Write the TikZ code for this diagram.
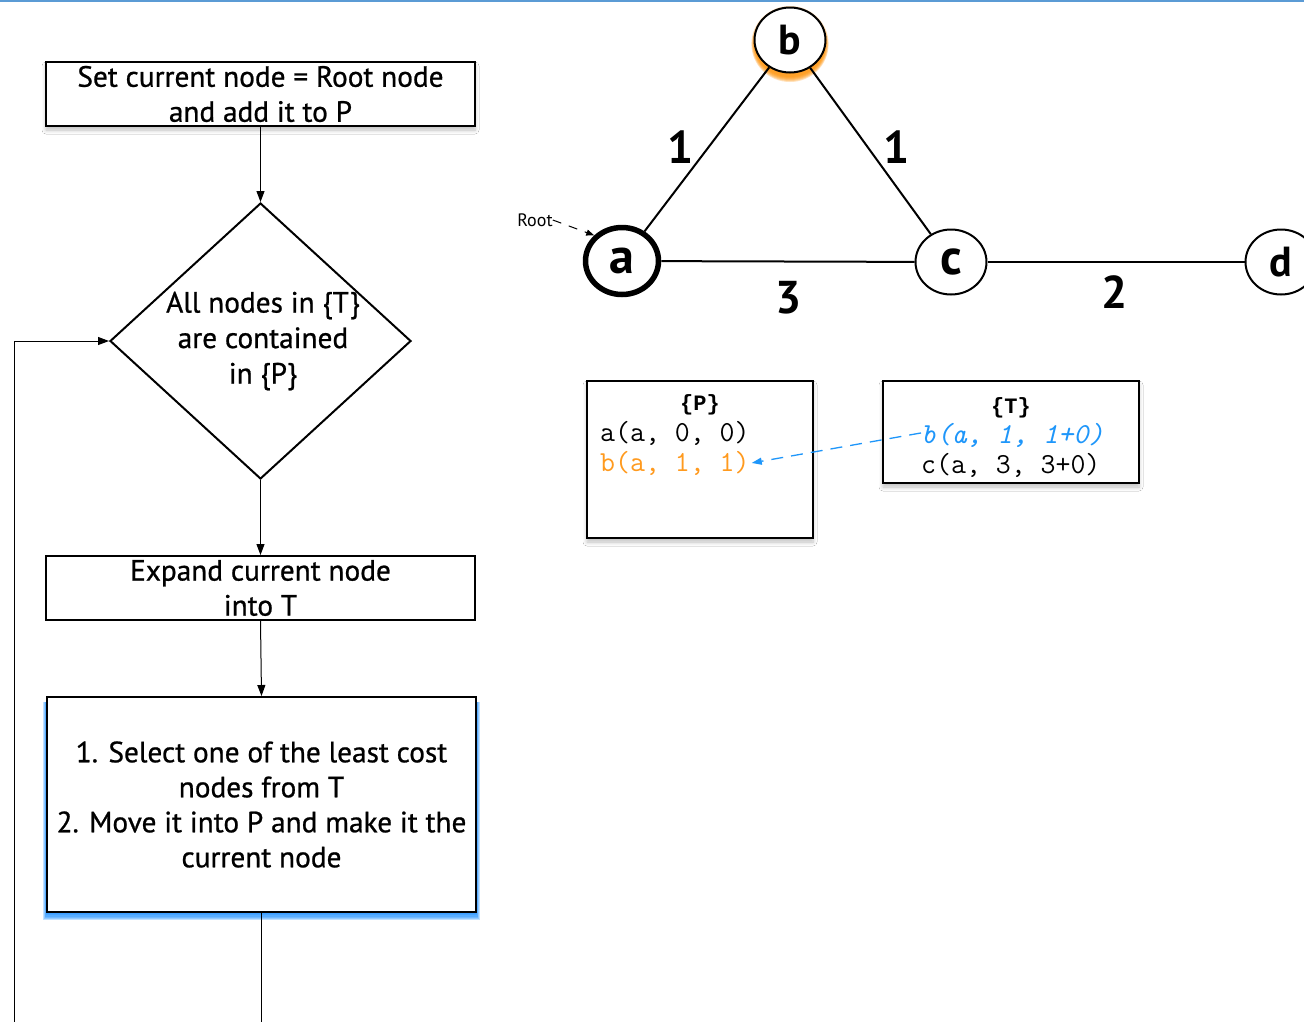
\documentclass[tikz,border=0pt]{standalone}
\usepackage{fontspec}
\setmainfont{PT Sans}
\newfontfamily\flowfont{PT Sans}[FakeBold=0.8]
\newfontfamily\itemmono{Latin Modern Mono}
\newfontfamily\titlemono{Liberation Mono}
\usetikzlibrary{arrows.meta,shapes.geometric,shadows.blur}

\definecolor{topblue}{HTML}{5B9BD5}
\definecolor{selorange}{HTML}{FF9A1E}
\definecolor{tblue}{HTML}{1E96FA}
\definecolor{glowblue}{HTML}{1E90FF}
\definecolor{gloworange}{HTML}{FF9000}

\tikzset{
  softshadow/.style={blur shadow={shadow xshift=0pt, shadow yshift=-4pt,
      shadow blur radius=4pt, shadow blur steps=6, shadow opacity=25}},
  flowbox/.style={draw, line width=2pt, fill=white, minimum width=429pt,
      align=center, font=\flowfont\fontsize{29.3}{35}\selectfont, inner sep=0pt},
  flowtext/.style={align=center, font=\flowfont\fontsize{29.3}{35.5}\selectfont, inner sep=0pt},
  flowarrow/.style={line width=1pt, -{Triangle[length=11pt,width=8pt]}},
  gnode/.style={draw, ellipse, line width=2pt, fill=white, minimum width=71pt,
      minimum height=65pt, inner sep=0pt, font=\fontsize{42}{42}\selectfont\bfseries},
  gedge/.style={line width=2pt},
  weight/.style={font=\fontsize{46}{46}\selectfont\bfseries, inner sep=0pt},
  setbox/.style={draw, line width=2pt, fill=white, softshadow},
  settitle/.style={font=\titlemono\fontsize{22}{22}\selectfont\bfseries, inner sep=0pt},
  setitem/.style={font=\itemmono\fontsize{29}{29}\selectfont, inner sep=0pt},
}

\begin{document}
\begin{tikzpicture}[x=1pt, y=-1pt]
  \useasboundingbox (0,0) rectangle (1304,1021);
  \clip (0,0) rectangle (1304,1021);
  \fill[white] (0,0) rectangle (1304,1021);
  \draw[topblue, line width=2.5pt] (0,1) -- (1304,1);

  % ---------- flowchart ----------
  \node[flowbox, minimum height=64pt, softshadow] (init) at (260.5,94)
    {Set current node = Root node\\and add it to P};

  \node[diamond, draw, line width=2pt, minimum width=301pt, minimum height=276pt,
        inner sep=0pt] (check) at (260.5,341) {};
  \node[flowtext] (checktext) at (263,341) {All nodes in \{T\}\\are contained\\in \{P\}};

  \node[flowbox, minimum height=64pt] (expand) at (260.5,588)
    {Expand current node\\into T};

  % blue glow under the selection step
  \coordinate (selsw) at (47,912);
  \coordinate (selne) at (476,697);
  \foreach \r in {1,...,6}
    \fill[glowblue, opacity=0.28]
      ([xshift=-0.6*\r pt, yshift=-1pt-1.2*\r pt]selsw) rectangle ([xshift=0.6*\r pt, yshift=-5pt]selne);
  \node[flowbox, minimum height=215pt] (select) at (261.5,804.5)
    {1. Select one of the least cost\\nodes from T\\2. Move it into P and make it the\\current node};

  \coordinate (loopbottom) at (14,1030);
  \coordinate (selbottom) at (261.5,1030);

  \draw[flowarrow] (init.south) -- (check.north);
  \draw[flowarrow] (check.south) -- (expand.north);
  \draw[flowarrow] (expand.south) -- (select.north);
  \draw[line width=1pt] (select.south) -- (selbottom);
  \draw[flowarrow] (loopbottom) |- (check.west);

  % ---------- graph ----------
  \foreach \r in {1,...,6}
    \fill[gloworange, opacity=0.26] (790,44) ellipse [x radius=35pt+0.6*\r pt, y radius=32pt+\r pt];
  \node[gnode] (b) at (790,40) {b};
  \node[gnode, line width=5.5pt, minimum width=73pt, minimum height=67pt,
        font=\fontsize{50}{50}\selectfont\bfseries] (a) at (622,261) {a};
  \node[gnode, font=\fontsize{50}{50}\selectfont\bfseries] (c) at (951,262) {c};
  \node[gnode] (d) at (1281,262) {d};

  \draw[gedge] (a) -- (b);
  \draw[gedge] (b) -- (c);
  \draw[gedge] (a) -- (c);
  \draw[gedge] (c) -- (d);

  \node[weight] (wab) at (681,147) {1};
  \node[weight] (wbc) at (897,147) {1};
  \node[weight] (wac) at (789,298) {3};
  \node[weight] (wcd) at (1115,292) {2};

  \node[font=\fontsize{18}{18}\selectfont, inner sep=0pt] (root) at (535,220) {Root};
  \draw[line width=1pt, dash pattern=on 9pt off 8pt, -{Triangle[length=8pt,width=6pt]}]
    (root.east) -- (a.north west);

  % ---------- sets P and T ----------
  \node[setbox, minimum width=226pt, minimum height=157pt, inner sep=0pt] (pbox) at (700,459.5) {};
  \node[setbox, minimum width=256pt, minimum height=102pt, inner sep=0pt] (tbox) at (1011,432) {};

  \node[settitle, anchor=base] (ptitle) at (700,410) {\{P\}};
  \node[setitem, anchor=base west] (pa) at (600,441) {a(a, 0, 0)};
  \node[setitem, anchor=base west, text=selorange] (pb) at (600,471) {b(a, 1, 1)};

  \node[settitle, anchor=base] (ttitle) at (1011,413) {\{T\}};
  \node[setitem, anchor=base west, text=tblue, font=\itemmono\fontsize{29}{29}\selectfont\itshape] (tb) at (921,443) {b(a, 1, 1+0)};
  \node[setitem, anchor=base west] (tc) at (921,473) {c(a, 3, 3+0)};

  \draw[tblue, line width=1.3pt, dash pattern=on 12pt off 8pt, -{Triangle[length=10pt,width=7pt]}]
    ([yshift=2pt]tb.west) -- ([xshift=2pt]pb.east);
\end{tikzpicture}
\end{document}
